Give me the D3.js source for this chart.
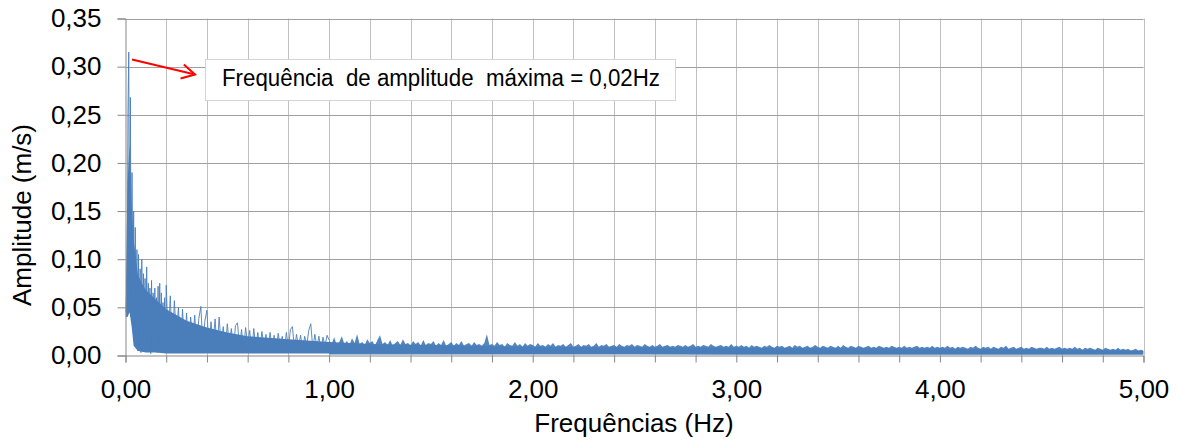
<!DOCTYPE html>
<html><head><meta charset="utf-8">
<script src="https://cdn.jsdelivr.net/npm/d3@7"></script>
<style>
body{margin:0;background:#fff}
svg{display:block}
text{font-family:"Liberation Sans",Arial,sans-serif}
</style>
</head><body>
<svg id="c" width="1178" height="441"></svg>
<script>
// ---------- data ----------
// amplitudes (m/s), 0 – 0.196 Hz every 0.004 Hz
const lowAmp = [0.045,0.060,0.042,0.251,0.315,0.050,0.268,0.040,0.190,0.030,
  0.150,0.010,0.133,0.020,0.110,0.005,0.105,0.015,0.090,0.003,
  0.100,0.020,0.085,0.006,0.080,0.012,0.092,0.004,0.075,0.018,
  0.070,0.002,0.078,0.010,0.065,0.005,0.070,0.020,0.060,0.003,
  0.072,0.012,0.075,0.006,0.065,0.015,0.055,0.004,0.060,0.010];
// 0.20 – 0.99 Hz every 0.01 Hz
const midAmp = [0.073,0.015,0.062,0.008,0.057,0.020,0.050,0.006,0.048,0.012,
  0.044,0.004,0.040,0.015,0.042,0.007,0.038,0.051,0.010,0.036,
  0.047,0.005,0.035,0.012,0.038,0.004,0.040,0.010,0.030,0.006,
  0.033,0.012,0.028,0.003,0.031,0.034,0.008,0.027,0.005,0.029,
  0.011,0.026,0.004,0.028,0.009,0.024,0.006,0.025,0.010,0.022,
  0.004,0.024,0.008,0.021,0.005,0.023,0.010,0.020,0.004,0.024,
  0.008,0.027,0.030,0.006,0.022,0.009,0.021,0.005,0.020,0.010,
  0.026,0.033,0.007,0.022,0.009,0.020,0.005,0.019,0.010,0.021];
// 1.000 – 5.000 Hz every 0.0125 Hz (upper edge of the dense noise)
const highAmp = [
  0.016,0.012,0.019,0.011,0.014,0.020,0.012,0.015,0.011,0.018,0.013,0.022,0.012,0.014,0.011,0.017,0.013,0.015,0.010,0.016,
  0.021,0.012,0.014,0.011,0.016,0.010,0.013,0.015,0.011,0.017,0.012,0.013,0.010,0.015,0.012,0.014,0.010,0.016,0.011,0.013,
  0.012,0.015,0.010,0.013,0.011,0.016,0.010,0.012,0.014,0.010,0.013,0.011,0.015,0.010,0.012,0.013,0.010,0.014,0.011,0.012,
  0.010,0.013,0.022,0.011,0.012,0.010,0.014,0.011,0.012,0.009,0.013,0.011,0.010,0.014,0.010,0.012,0.009,0.013,0.010,0.012,
  0.011,0.009,0.013,0.010,0.011,0.009,0.012,0.010,0.013,0.009,0.011,0.010,0.012,0.009,0.011,0.013,0.009,0.010,0.012,0.009,
  0.011,0.010,0.012,0.009,0.010,0.013,0.009,0.011,0.010,0.012,0.009,0.010,0.011,0.009,0.012,0.010,0.009,0.011,0.010,0.012,
  0.009,0.011,0.010,0.009,0.012,0.010,0.009,0.011,0.009,0.010,0.012,0.009,0.010,0.011,0.009,0.010,0.009,0.011,0.010,0.009,
  0.011,0.009,0.010,0.012,0.009,0.010,0.009,0.011,0.010,0.009,0.012,0.010,0.009,0.010,0.011,0.009,0.010,0.009,0.012,0.009,
  0.010,0.009,0.011,0.009,0.010,0.008,0.011,0.009,0.010,0.009,0.008,0.010,0.009,0.011,0.009,0.008,0.010,0.009,0.010,0.008,
  0.009,0.010,0.008,0.011,0.009,0.010,0.008,0.009,0.010,0.008,0.009,0.011,0.009,0.008,0.010,0.009,0.008,0.010,0.009,0.008,
  0.010,0.008,0.011,0.009,0.008,0.010,0.009,0.008,0.010,0.009,0.008,0.009,0.010,0.008,0.009,0.008,0.010,0.009,0.008,0.009,
  0.008,0.010,0.009,0.008,0.009,0.008,0.010,0.008,0.009,0.008,0.009,0.010,0.008,0.009,0.008,0.009,0.008,0.010,0.008,0.009,
  0.008,0.009,0.008,0.010,0.008,0.009,0.007,0.009,0.008,0.009,0.008,0.007,0.009,0.008,0.010,0.008,0.007,0.009,0.008,0.009,
  0.007,0.009,0.008,0.007,0.009,0.008,0.010,0.007,0.008,0.009,0.007,0.008,0.009,0.007,0.008,0.007,0.009,0.008,0.007,0.008,
  0.008,0.007,0.009,0.007,0.008,0.007,0.008,0.009,0.007,0.008,0.007,0.008,0.007,0.009,0.007,0.008,0.006,0.008,0.007,0.008,
  0.007,0.006,0.008,0.007,0.006,0.008,0.007,0.006,0.007,0.006,0.008,0.006,0.007,0.006,0.007,0.005,0.006,0.007,0.005,0.006,
  0.005];
// dense (solid) part of the spectrum
const bandFreq = [0,0.01,0.02,0.03,0.04,0.06,0.08,0.10,0.15,0.20,0.30,0.40,0.50,0.60,0.80,1.00,1.20,1.50,2.00,2.50,3.00,3.50,4.00,4.50,5.00];
const bandTop  = [0.045,0.18,0.22,0.16,0.12,0.085,0.075,0.068,0.058,0.048,0.036,0.029,0.024,0.020,0.017,0.014,0.012,0.011,0.009,0.0085,0.008,0.0075,0.007,0.0065,0.005];
const bandLow  = [0.040,0.040,0.045,0.030,0.010,0.005,0.004,0.003,0.003,0.002,0.002,0.002,0.002,0.002,0.002,0.002,0.002,0.002,0.0015,0.0015,0.001,0.001,0.001,0.001,0.001];

const yTicks = [0,0.05,0.10,0.15,0.20,0.25,0.30,0.35];
const xGrid  = [0,0.2,0.4,0.6,0.8,1,1.2,1.4,1.6,1.8,2,2.2,2.4,2.6,2.8,3,3.2,3.4,3.6,3.8,4,4.2,4.4,4.6,4.8,5];
const xLabelTicks = [0,1,2,3,4,5];
const annotationText = "Frequência  de amplitude  máxima = 0,02Hz";
const xTitle = "Frequências (Hz)";
const yTitle = "Amplitude (m/s)";

// ---------- build series ----------
const seriesLow = [];
lowAmp.forEach((v,i)=>seriesLow.push([i*0.004, v]));
midAmp.forEach((v,i)=>seriesLow.push([0.20 + i*0.01, v]));
const seriesHigh = highAmp.map((v,i)=>[1.0 + i*0.0125, v]);
seriesLow.push(seriesHigh[0]);
const band = bandFreq.map((f,i)=>({f, t:bandTop[i], l:bandLow[i]}));

// ---------- chart ----------
const svg = d3.select('#c');
const x = d3.scaleLinear().domain([0,5]).range([125.5,1143.5]);
const y = d3.scaleLinear().domain([0,0.35]).range([355.5,18.5]);
const fmt = d => d.toFixed(2).replace('.',',');
const blue = '#4a7ebb';

// grid
svg.append('g').selectAll('line').data(xGrid.slice(1)).join('line')
  .attr('x1',d=>Math.round(x(d))+0.5).attr('x2',d=>Math.round(x(d))+0.5)
  .attr('y1',y(0.35)).attr('y2',y(0))
  .attr('stroke','#c0c0c0').attr('stroke-width',1);
svg.append('g').selectAll('line').data(yTicks.slice(1)).join('line')
  .attr('x1',x(0)).attr('x2',x(5))
  .attr('y1',d=>Math.round(y(d))+0.5).attr('y2',d=>Math.round(y(d))+0.5)
  .attr('stroke','#a0a0a0').attr('stroke-width',1);

// data
svg.append('clipPath').attr('id','pc').append('rect')
  .attr('x',x(0)).attr('y',y(0.35)).attr('width',x(5)-x(0)).attr('height',y(0)-y(0.35));
const g = svg.append('g').attr('clip-path','url(#pc)');
g.append('path').datum(band)
  .attr('d', d3.area().x(d=>x(d.f)).y0(d=>y(d.l)).y1(d=>y(d.t)))
  .attr('fill',blue);
g.append('path').datum(seriesHigh)
  .attr('d', d3.area().x(d=>x(d[0])).y0(y(0.001)).y1(d=>y(d[1])))
  .attr('fill',blue).attr('fill-opacity',0.95);
g.append('path').datum(seriesLow)
  .attr('d', d3.line().x(d=>x(d[0])).y(d=>y(d[1])))
  .attr('fill','none').attr('stroke',blue).attr('stroke-width',1).attr('stroke-opacity',0.9);

// axes
const yAxis = svg.append('g').attr('transform',`translate(${x(0)},0)`)
  .call(d3.axisLeft(y).tickValues(yTicks).tickFormat(fmt).tickSize(8).tickPadding(16));
const xAxis = svg.append('g').attr('transform',`translate(0,${y(0)})`)
  .call(d3.axisBottom(x).tickValues(xGrid)
    .tickFormat(d => xLabelTicks.some(t=>Math.abs(t-d)<1e-9) ? fmt(d) : '')
    .tickSize(7).tickPadding(17));
[yAxis,xAxis].forEach(a=>{
  a.select('.domain').attr('stroke','#868686');
  a.selectAll('.tick line').attr('stroke','#868686');
  a.selectAll('text').attr('fill','#000').style('font-size','26px')
    .style('font-family','"Liberation Sans",Arial,sans-serif');
});

// titles
svg.append('text').attr('x',634).attr('y',432).attr('text-anchor','middle')
  .style('font-size','26px').text(xTitle);
svg.append('text').attr('transform','translate(31,215) rotate(-90)').attr('text-anchor','middle')
  .style('font-size','26px').text(yTitle);

// annotation
svg.append('rect').attr('x',205.5).attr('y',59.5).attr('width',470).attr('height',41)
  .attr('fill','#fff').attr('stroke','#d4d4d4');
svg.append('text').attr('x',222).attr('y',86).style('font-size','23px')
  .style('white-space','pre').attr('textLength',438).attr('lengthAdjust','spacingAndGlyphs')
  .text(annotationText);
const ax0=132, ay0=59.5, ax1=195, ay1=74.5;
svg.append('line').attr('x1',ax0).attr('y1',ay0).attr('x2',ax1).attr('y2',ay1)
  .attr('stroke','#ff0000').attr('stroke-width',2);
const ang = Math.atan2(ay1-ay0, ax1-ax0), L = 15, spread = 0.5;
svg.append('path')
  .attr('d',`M${ax1-L*Math.cos(ang-spread)},${ay1-L*Math.sin(ang-spread)} L${ax1},${ay1} L${ax1-L*Math.cos(ang+spread)},${ay1-L*Math.sin(ang+spread)}`)
  .attr('fill','none').attr('stroke','#ff0000').attr('stroke-width',2).attr('stroke-linejoin','miter');
</script>
</body></html>
